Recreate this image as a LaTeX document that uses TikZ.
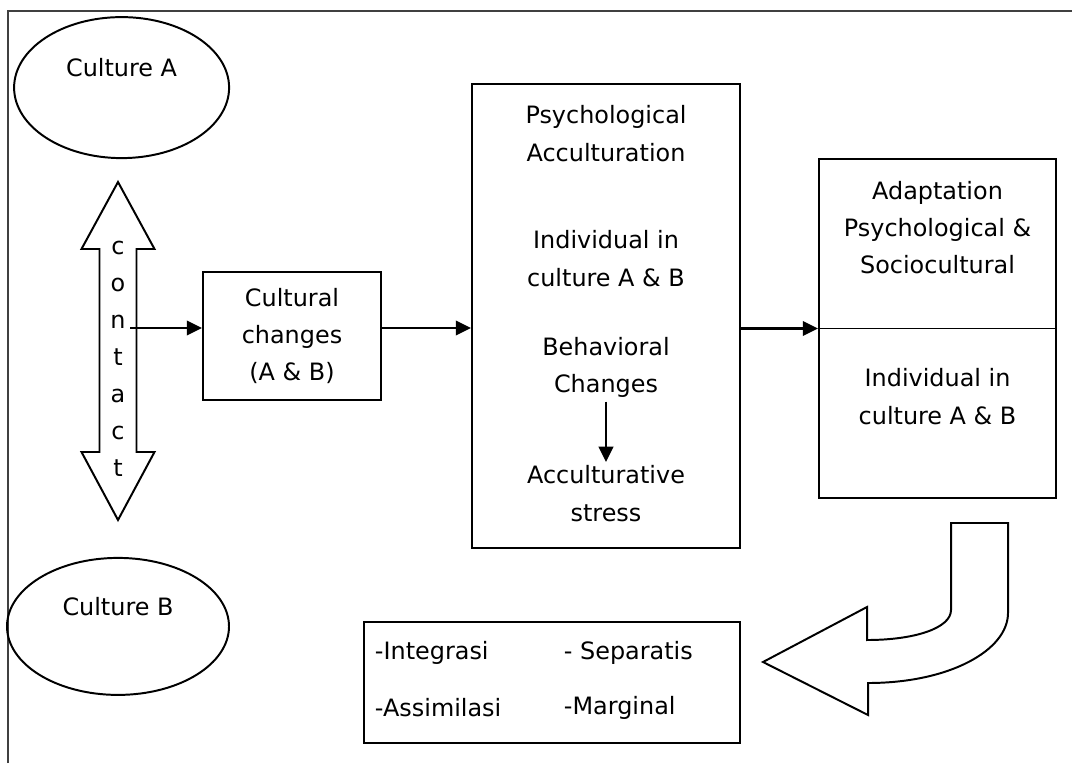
\documentclass[tikz,border=0pt]{standalone}
\usepackage{fontspec}
\setmainfont{DejaVu Sans}
\usepackage{tikz}
\usetikzlibrary{arrows.meta, shapes.geometric}
\tikzset{>={Triangle[length=0.38cm,width=0.36cm]}}
\tikzstyle{culture}=[draw, ellipse, inner sep=0]
\tikzstyle{box}=[draw, rectangle, inner sep=0]
\tikzstyle{txt}=[align=center, inner sep=2pt]
\tikzstyle{strat}=[anchor=west, inner sep=0]

\begin{document}
\begin{tikzpicture}[font=\fontsize{17}{26.5}\selectfont, line width=1.4pt]
	\useasboundingbox (0,0) rectangle (26.8,-19.075);
	% frame
	\draw[line width=1.8pt, black!75] (0.2,-19.075) -- (0.2,-0.275) -- (26.8,-0.275);
	
	\node[culture, minimum width=5.375cm, minimum height=3.525cm, label={[yshift=0.5cm]center:Culture A}] (cultA) at (3.04,-2.19) {};
	\node[culture, minimum width=5.55cm, minimum height=3.425cm, label={[yshift=0.5cm]center:Culture B}] (cultB) at (2.95,-15.66) {};
	
	% contact
	\draw (2.95,-4.55) -- (3.8625,-6.225) -- (3.4125,-6.225) -- (3.4125,-11.3) -- (3.8625,-11.3) -- (2.95,-13.0) -- (2.0375,-11.3) -- (2.4875,-11.3) -- (2.4875,-6.225) -- (2.0375,-6.225) -- cycle;
	\node[txt, font=\fontsize{17}{26.3}\selectfont] (contact) at (2.95,-8.98) {c\\o\\n\\t\\a\\c\\t};
	
	\node[box, txt, minimum width=4.45cm, minimum height=3.2cm] (changes) at (7.3,-8.4) {Cultural\\changes\\(A \& B)};
	\coordinate (cin) at (3.25,-8.2);
	\draw[->, line width=1.7pt] (cin) -- (cin -| changes.west);
	
	\node[box, minimum width=6.7cm, minimum height=11.6cm] (psych) at (15.15,-7.9) {};
	\node[txt] (psyacc) at (15.15,-3.3375) {Psychological\\Acculturation};
	\node[txt] (indiv) at (15.15,-6.4625) {Individual in\\culture A \& B};
	\node[txt] (behav) at (15.15,-9.19) {Behavioral\\Changes};
	\node[txt] (stress) at (15.15,-12.34) {Acculturative\\stress};
	\draw[->, line width=1.7pt] (cin -| changes.east) -- (cin -| psych.west);
	\draw[->, line width=1.7pt] (behav) -- (stress);
	
	\node[box, minimum width=5.925cm, minimum height=8.475cm] (adapt) at (23.4375,-8.2125) {};
	\draw (adapt.west) -- (adapt.east);
	\node[txt] (adaptxt) at (23.4375,-5.6875) {Adaptation\\Psychological \&\\Sociocultural};
	\node[txt] (indiv2) at (23.4375,-9.9125) {Individual in\\culture A \& B};
	\draw[->, line width=1.7pt] (psych.east |- adapt.west) -- (adapt.west);
	
	\node[box, minimum width=9.4cm, minimum height=3.025cm] (modes) at (13.8,-17.0625) {};
	\node[strat] (integ) at (9.35,-16.325) {-Integrasi};
	\node[strat] (separ) at (14.075,-16.325) {- Separatis};
	\node[strat] (assim) at (9.35,-17.7) {-Assimilasi};
	\node[strat] (margi) at (14.075,-17.7) {-Marginal};
	
	% bent arrow
	\draw (23.775,-13.075) -- (25.2,-13.075) -- (25.2,-15.325)
		.. controls (25.2,-16.25) and (23.75,-17.075) .. (21.7,-17.075)
		-- (21.7,-17.875) -- (19.075,-16.55) -- (21.675,-15.175) -- (21.675,-16.0)
		.. controls (22.875,-16.0) and (23.775,-15.7) .. (23.775,-15.25) -- cycle;
\end{tikzpicture}
\end{document}
